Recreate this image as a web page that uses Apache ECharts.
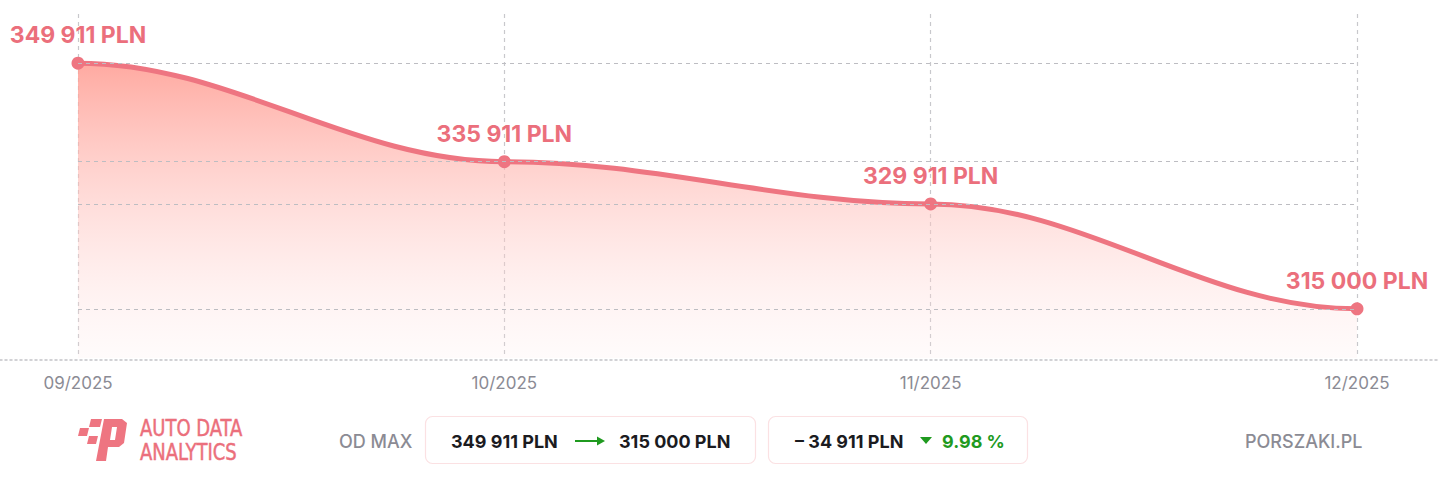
<!DOCTYPE html>
<html>
<head>
<meta charset="utf-8">
<script src="https://cdn.jsdelivr.net/npm/echarts@6/dist/echarts.min.js"></script>
<style>
  html, body { margin: 0; padding: 0; background: #ffffff; }
  #chart { width: 1440px; height: 496px; }
</style>
</head>
<body>
<div id="chart"></div>
<script>
const categories = ['09/2025', '10/2025', '11/2025', '12/2025'];
const prices = [349911, 335911, 329911, 315000];
const brandLeft = 'AUTO DATA';
const brandRight = 'ANALYTICS';
const siteName = 'PORSZAKI.PL';
const fromLabel = 'OD MAX';

function fmt(n) {
  return String(Math.round(n)).replace(/\B(?=(\d{3})+(?!\d))/g, ' ') + ' PLN';
}
const maxPrice = Math.max.apply(null, prices);
const lastPrice = prices[prices.length - 1];
const diff = maxPrice - lastPrice;
const pct = (diff / maxPrice * 100).toFixed(2) + ' %';

const pink = '#ee7581';
const labelPink = '#eb6f7c';
const green = '#1f9a1f';
const dark = '#1b1b1f';
const grayText = '#8b8b94';
const FONT = 'Inter, "Noto Sans", sans-serif';
const TENSION = 0.36;

const pointData = prices.map(function (v, i) { return [i, v]; });

function curvePath(api) {
  const pts = prices.map(function (v, i) { return api.coord([i, v]); });
  let d = 'M' + pts[0][0] + ' ' + pts[0][1];
  for (let i = 1; i < pts.length; i++) {
    const p0 = pts[i - 1], p1 = pts[i];
    const len = (p1[0] - p0[0]) * TENSION;
    d += ' C' + (p0[0] + len) + ' ' + p0[1] + ' ' + (p1[0] - len) + ' ' + p1[1] + ' ' + p1[0] + ' ' + p1[1];
  }
  return { d: d, pts: pts };
}

const chart = echarts.init(document.getElementById('chart'), null, { renderer: 'svg' });

const option = {
  animation: false,
  grid: [
    { left: 78, right: 83, top: 14, bottom: 138 },
    { left: 0, right: 0, top: 14, bottom: 136 }
  ],
  xAxis: [
    {
      type: 'category', gridIndex: 0, data: categories, boundaryGap: false,
      axisLine: { show: false }, axisTick: { show: false },
      axisLabel: { color: grayText, fontSize: 17, fontFamily: FONT, margin: 16 },
      splitLine: { show: true, lineStyle: { color: '#c8c8cc', type: [4, 4], width: 1.2 } }
    },
    {
      type: 'value', gridIndex: 1, min: 0, max: 1,
      axisLine: { show: true, onZero: false, lineStyle: { color: '#c4c4c8', type: [2, 3], width: 1.5 } },
      axisTick: { show: false }, axisLabel: { show: false }, splitLine: { show: false }
    }
  ],
  yAxis: [
    {
      type: 'value', gridIndex: 0,
      min: function (v) { return v.min - 0.2 * (v.max - v.min); },
      max: function (v) { return v.max + 0.2 * (v.max - v.min); },
      axisLine: { show: false }, axisTick: { show: false }, axisLabel: { show: false },
      splitLine: { show: false }
    },
    { type: 'value', gridIndex: 1, min: 0, max: 1, show: false }
  ],
  series: [
    {
      type: 'custom', xAxisIndex: 0, yAxisIndex: 0, z: 1, silent: true,
      data: pointData, encode: { x: 0, y: 1 },
      renderItem: function (params, api) {
        if (params.dataIndex !== 0) return null;
        const c = curvePath(api);
        const cs = params.coordSys;
        const bottom = cs.y + cs.height;
        const top = Math.min.apply(null, c.pts.map(function (p) { return p[1]; }));
        const last = c.pts[c.pts.length - 1], first = c.pts[0];
        return {
          type: 'path',
          shape: { pathData: c.d + ' L' + last[0] + ' ' + bottom + ' L' + first[0] + ' ' + bottom + ' Z' },
          style: {
            fill: new echarts.graphic.LinearGradient(0, top, 0, bottom, [
              { offset: 0, color: 'rgba(255,160,150,0.9)' },
              { offset: 1, color: 'rgba(255,228,228,0.15)' }
            ], true),
            stroke: null
          }
        };
      }
    },
    {
      type: 'line', xAxisIndex: 0, yAxisIndex: 0, z: 2, silent: true,
      data: prices, showSymbol: false, symbol: 'none',
      lineStyle: { opacity: 0 },
      markLine: {
        silent: true, symbol: 'none',
        label: { show: false },
        lineStyle: { color: '#bdbdc2', type: [4, 4], width: 1.2 },
        data: prices.map(function (v) { return { yAxis: v }; })
      }
    },
    {
      type: 'custom', xAxisIndex: 0, yAxisIndex: 0, z: 3, silent: true,
      data: pointData, encode: { x: 0, y: 1 },
      renderItem: function (params, api) {
        if (params.dataIndex !== 0) return null;
        const c = curvePath(api);
        return {
          type: 'path',
          shape: { pathData: c.d },
          style: { fill: null, stroke: pink, lineWidth: 5, lineCap: 'round', lineJoin: 'round' }
        };
      }
    },
    {
      type: 'line', xAxisIndex: 0, yAxisIndex: 0, z: 4,
      data: prices,
      symbol: 'circle', symbolSize: 13,
      itemStyle: { color: pink },
      lineStyle: { opacity: 0 },
      label: {
        show: true, position: 'top', distance: 10,
        color: labelPink, fontSize: 23, fontWeight: 'bold', fontFamily: FONT,
        formatter: function (p) { return fmt(p.value); }
      }
    }
  ],
  graphic: [
    { type: 'polygon', shape: { points: [[91, 419], [102, 419], [100, 427], [89, 427]] }, style: { fill: pink } },
    { type: 'polygon', shape: { points: [[80, 428], [89, 428], [87, 436], [78, 436]] }, style: { fill: pink } },
    { type: 'polygon', shape: { points: [[89, 436], [98, 436], [96, 444], [87, 444]] }, style: { fill: pink } },
    { type: 'polygon', shape: { points: [[104, 419], [122, 419], [127, 423], [124, 443], [119, 447], [108, 447], [106, 461], [96, 461]] }, style: { fill: pink } },
    { type: 'polygon', shape: { points: [[112, 427], [117, 427], [115, 440], [110, 440]] }, style: { fill: '#ffffff' } },
    { type: 'text', x: 140, y: 428, scaleY: 1.15, style: { text: brandLeft, font: '20px "Liberation Sans Narrow", "DejaVu Sans Condensed", sans-serif', fill: labelPink, stroke: labelPink, lineWidth: 0.4, textVerticalAlign: 'middle' } },
    { type: 'text', x: 140, y: 452, scaleY: 1.15, style: { text: brandRight, font: '20px "Liberation Sans Narrow", "DejaVu Sans Condensed", sans-serif', fill: labelPink, stroke: labelPink, lineWidth: 0.4, textVerticalAlign: 'middle' } },
    { type: 'text', x: 339, y: 441, style: { text: fromLabel, font: '500 18px ' + FONT, fill: grayText, textVerticalAlign: 'middle' } },
    { type: 'rect', shape: { x: 425.5, y: 416.5, width: 330, height: 47, r: 7 }, style: { fill: '#ffffff', stroke: '#fbe1e3', lineWidth: 1.2 } },
    { type: 'text', x: 451, y: 441, style: { text: fmt(maxPrice), font: 'bold 18px ' + FONT, fill: dark, textVerticalAlign: 'middle' } },
    { type: 'line', shape: { x1: 575, y1: 441, x2: 598, y2: 441 }, style: { stroke: green, lineWidth: 2 } },
    { type: 'polygon', shape: { points: [[597, 436.5], [605, 441], [597, 445.5]] }, style: { fill: green } },
    { type: 'text', x: 619, y: 441, style: { text: fmt(lastPrice), font: 'bold 18px ' + FONT, fill: dark, textVerticalAlign: 'middle' } },
    { type: 'rect', shape: { x: 768.5, y: 416.5, width: 259, height: 47, r: 7 }, style: { fill: '#ffffff', stroke: '#fbe1e3', lineWidth: 1.2 } },
    { type: 'text', x: 795, y: 441, style: { text: '\u2013 ' + fmt(diff), font: 'bold 18px ' + FONT, fill: dark, textVerticalAlign: 'middle' } },
    { type: 'polygon', shape: { points: [[920, 437], [932, 437], [926, 444]] }, style: { fill: green } },
    { type: 'text', x: 942, y: 441, style: { text: pct, font: 'bold 18px ' + FONT, fill: green, textVerticalAlign: 'middle' } },
    { type: 'text', x: 1245, y: 441, style: { text: siteName, font: '500 18px ' + FONT, fill: grayText, textVerticalAlign: 'middle' } }
  ]
};
chart.setOption(option);
</script>
</body>
</html>
